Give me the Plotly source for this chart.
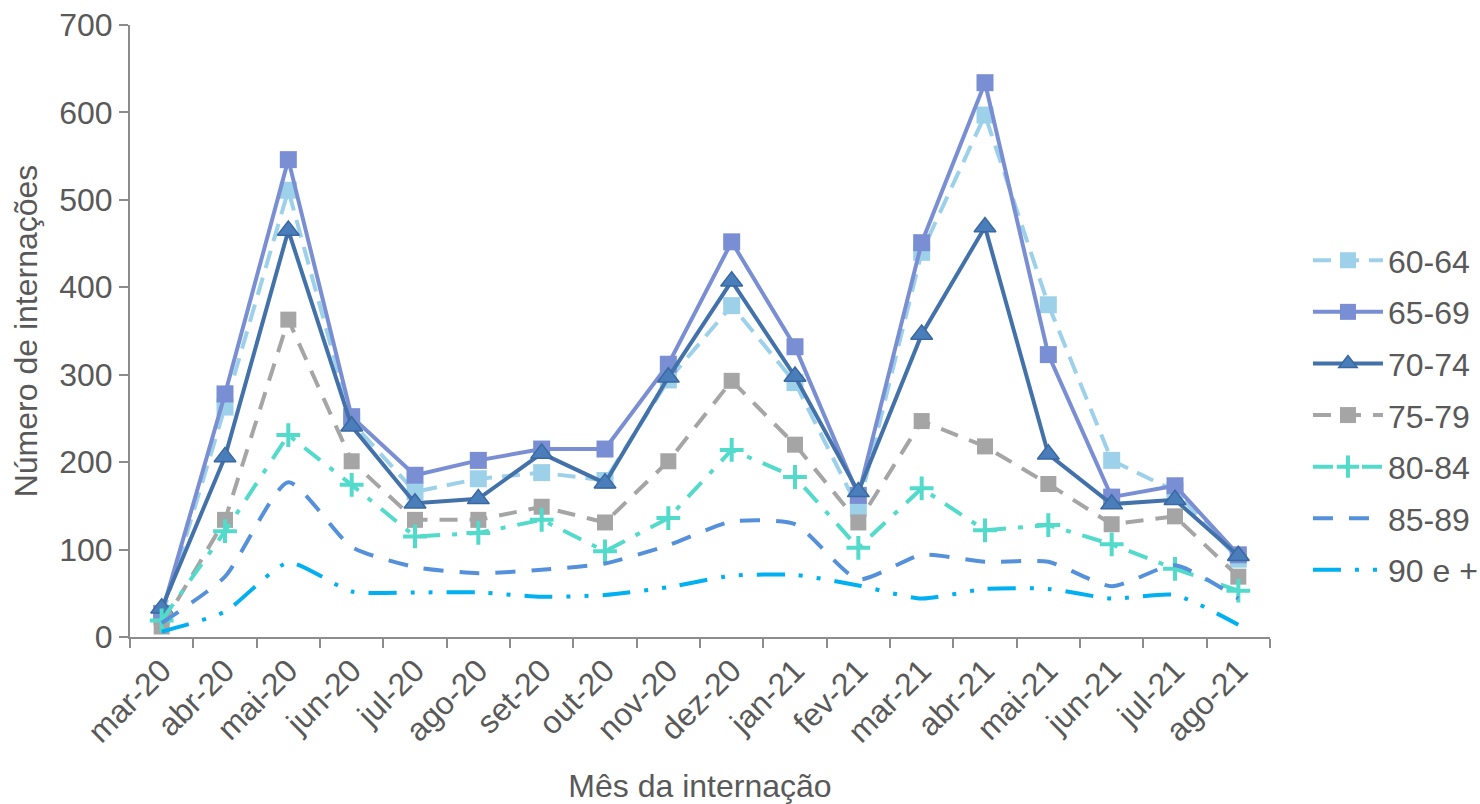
import plotly.graph_objects as go

months = ["mar-20", "abr-20", "mai-20", "jun-20", "jul-20", "ago-20", "set-20", "out-20",
          "nov-20", "dez-20", "jan-21", "fev-21", "mar-21", "abr-21", "mai-21", "jun-21",
          "jul-21", "ago-21"]

s_60_64 = [23, 263, 511, 246, 166, 181, 188, 179, 294, 379, 291, 147, 440, 597, 380, 202, 167, 89]
s_65_69 = [27, 278, 546, 252, 185, 202, 215, 215, 312, 452, 332, 162, 451, 634, 323, 160, 173, 94]
s_70_74 = [33, 206, 465, 241, 153, 158, 210, 176, 297, 407, 298, 166, 346, 469, 209, 152, 157, 93]
s_75_79 = [12, 134, 363, 201, 134, 134, 149, 131, 201, 293, 220, 131, 247, 218, 175, 129, 138, 69]
s_80_84 = [19, 121, 231, 174, 115, 119, 134, 98, 136, 214, 183, 102, 170, 122, 128, 106, 78, 53]
s_85_89 = [16, 69, 177, 103, 80, 73, 77, 84, 105, 132, 129, 66, 94, 86, 86, 58, 82, 44]
s_90 = [6, 29, 85, 52, 51, 51, 46, 48, 57, 70, 71, 59, 44, 55, 55, 44, 48, 14]

names = ["60-64", "65-69", "70-74", "75-79", "80-84", "85-89", "90 e +"]
yticks = [0, 100, 200, 300, 400, 500, 600, 700]

FONT = "Liberation Sans, Arial, sans-serif"
FS = 32
TXT = "#595959"
AX = "#8C8C8C"

fig = go.Figure()

def add(y, name, color, dash, width=4, marker=None, shape="linear", smoothing=None):
    line = dict(color=color, width=width, dash=dash, shape=shape)
    if smoothing is not None:
        line["smoothing"] = smoothing
    kw = dict(x=months, y=y, name=name, legendgroup=name, line=line)
    if marker:
        kw["mode"] = "lines+markers"
        kw["marker"] = marker
    else:
        kw["mode"] = "lines"
    fig.add_trace(go.Scatter(**kw))

add(s_60_64, names[0], "#9DD1EA", "18px,10px",
    marker=dict(symbol="square", size=17, color="#9DD1EA"))
add(s_65_69, names[1], "#7A8FD3", "solid",
    marker=dict(symbol="square", size=17, color="#7A8FD3"))
add(s_70_74, names[2], "#4372AA", "solid",
    marker=dict(symbol="triangle-up", size=19, color="#4A7EBB",
                line=dict(color="#3A68A0", width=1.5)))
add(s_75_79, names[3], "#A5A5A5", "18px,12px",
    marker=dict(symbol="square", size=16, color="#A5A5A5"))
add(s_80_84, names[4], "#52DACA", "20px,12px,5px,12px",
    marker=dict(symbol="cross-thin", size=17, color="#52DACA",
                line=dict(color="#52DACA", width=4)))
add(s_85_89, names[5], "#5591DB", "20px,16px", shape="spline", smoothing=0.6)
add(s_90, names[6], "#00B0F0", "28px,14px,4px,14px,4px,14px", shape="spline", smoothing=0.6)

fig.update_layout(
    width=1480, height=804,
    margin=dict(l=130, r=210, t=25, b=167, autoexpand=False),
    paper_bgcolor="white", plot_bgcolor="white",
    font=dict(family=FONT, size=FS, color=TXT),
    showlegend=True,
    legend=dict(x=1.0333, y=0.362, xanchor="left", yanchor="middle",
                font=dict(family=FONT, size=FS, color=TXT),
                itemwidth=70, tracegroupgap=7, bgcolor="rgba(0,0,0,0)"),
    xaxis=dict(type="category", range=[-0.5, 17.5], tickangle=-45,
               showline=True, linecolor=AX, linewidth=2,
               ticks="outside", ticklen=9, tickwidth=2, tickcolor=AX,
               tickson="boundaries", showgrid=False, zeroline=False,
               ticklabeloverflow="allow",
               tickfont=dict(family=FONT, size=FS, color=TXT),
               title=dict(text="Mês da internação", standoff=29,
                          font=dict(family=FONT, size=FS, color=TXT))),
    yaxis=dict(range=[0, 700], tickvals=yticks, ticktext=[str(v) for v in yticks],
               showline=True, linecolor=AX, linewidth=2,
               ticks="outside", ticklen=9, tickwidth=2, tickcolor=AX,
               showgrid=False, zeroline=False, ticklabeloverflow="allow",
               tickfont=dict(family=FONT, size=FS, color=TXT),
               title=dict(text="Número de internações", standoff=12,
                          font=dict(family=FONT, size=FS, color=TXT))),
)

fig.write_html("out.html", config={"displayModeBar": False},
               post_script="document.body.style.margin='0px';")
